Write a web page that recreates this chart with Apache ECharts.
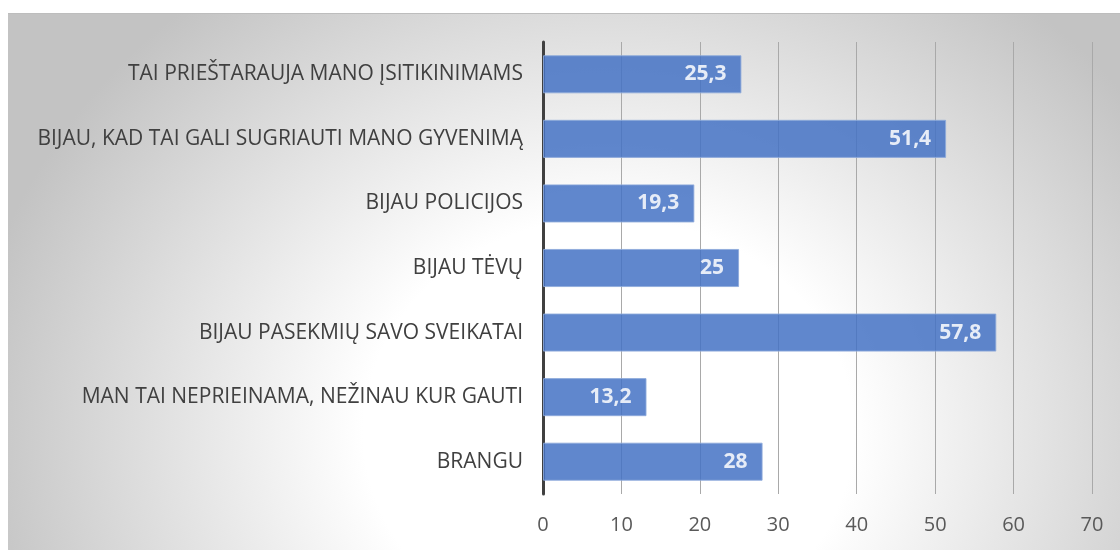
<!DOCTYPE html>
<html>
<head>
<meta charset="utf-8">
<script src="https://cdn.jsdelivr.net/npm/echarts@6/dist/echarts.min.js"></script>
<style>
  html, body { margin: 0; padding: 0; background: #ffffff; }
  #wrap { position: relative; width: 1120px; height: 550px; }
  #panel {
    position: absolute; left: 8px; top: 13px; width: 1112px; height: 537px;
    border-top: 1.5px solid #bdbdbd; box-sizing: border-box;
    background: radial-gradient(ellipse 58% 105% at 54% 78%, #ffffff 0%, #ffffff 38%, #c3c3c3 100%);
  }
  #chart { position: absolute; left: 0; top: 0; width: 1120px; height: 550px; }
</style>
</head>
<body>
<div id="wrap">
  <div id="panel"></div>
  <div id="chart"></div>
</div>
<script>
// categories listed bottom -> top (ECharts category axis starts at the bottom)
const categories = [
    'BRANGU',
    'MAN TAI NEPRIEINAMA, NEŽINAU KUR GAUTI',
    'BIJAU PASEKMIŲ SAVO SVEIKATAI',
    'BIJAU TĖVŲ',
    'BIJAU POLICIJOS',
    'BIJAU, KAD TAI GALI SUGRIAUTI MANO GYVENIMĄ',
    'TAI PRIEŠTARAUJA MANO ĮSITIKINIMAMS'
];
const values = [28, 13.2, 57.8, 25, 19.3, 51.4, 25.3];
const tick_labels = [0, 10, 20, 30, 40, 50, 60, 70];

const chart = echarts.init(document.getElementById('chart'));

chart.setOption({
    animation: false,
    grid: { left: 543, right: 28, top: 42, bottom: 56 },
    xAxis: {
        type: 'value',
        min: tick_labels[0],
        max: tick_labels[tick_labels.length - 1],
        interval: 10,
        axisLine: { show: false },
        axisTick: { show: false },
        axisLabel: {
            color: '#595959',
            fontFamily: 'Open Sans',
            fontSize: 20,
            margin: 21,
            formatter: v => tick_labels.includes(v) ? String(v) : ''
        },
        splitLine: { show: true, lineStyle: { color: '#a9a9a9', width: 1 } }
    },
    yAxis: {
        type: 'category',
        data: categories,
        axisLine: { show: true, lineStyle: { color: '#404040', width: 3 } },
        axisTick: { show: false },
        axisLabel: {
            color: '#404040',
            fontFamily: 'Open Sans',
            fontSize: 21,
            margin: 20
        }
    },
    series: [{
        type: 'bar',
        data: values,
        barCategoryGap: '41%',
        itemStyle: {
            color: '#4472c4',
            opacity: 0.85,
            borderColor: '#8eaadb',
            borderWidth: 1
        },
        label: {
            show: true,
            position: 'insideRight',
            distance: 15,
            color: '#ffffff',
            fontFamily: 'Open Sans',
            fontWeight: 'bold',
            fontSize: 21,
            formatter: p => String(p.value).replace('.', ',')
        }
    }]
});
</script>
</body>
</html>
